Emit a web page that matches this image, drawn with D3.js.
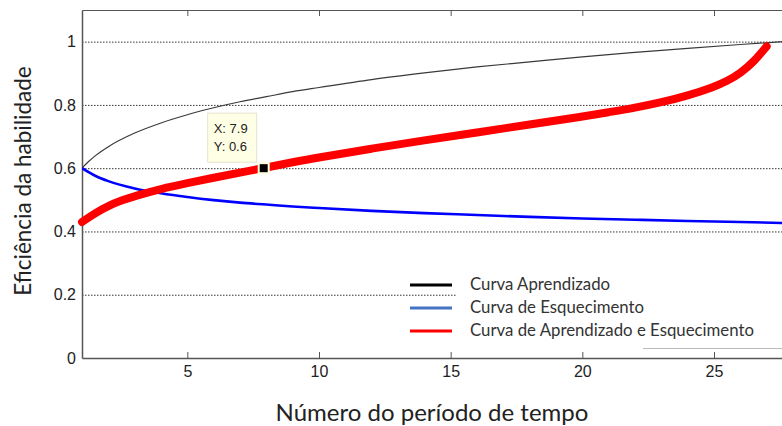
<!DOCTYPE html>
<html>
<head>
<meta charset="utf-8">
<script src="https://cdn.jsdelivr.net/npm/d3@7"></script>
<style>
  body { margin: 0; background: #fff; }
  svg { display: block; }
</style>
</head>
<body>
<div id="chart"></div>
<script>
// values
var periods_learn = [1, 1.25, 1.5, 2, 3, 4, 5, 6, 7, 8, 9, 10, 12, 14, 16, 18, 20, 22, 24, 26, 28];
var learn         = [0.600, 0.621, 0.639, 0.668, 0.711, 0.743, 0.769, 0.791, 0.810, 0.826, 0.842, 0.855, 0.880, 0.901, 0.920, 0.936, 0.952, 0.966, 0.979, 0.991, 1.002];

var periods_forget = [1, 1.5, 2, 3, 4, 5, 6, 7, 8, 9, 10, 12, 14, 16, 18, 20, 22, 24, 26, 28];
var forget         = [0.600, 0.576, 0.559, 0.536, 0.521, 0.509, 0.499, 0.491, 0.485, 0.479, 0.474, 0.465, 0.458, 0.452, 0.446, 0.441, 0.437, 0.433, 0.430, 0.426];

var periods_both = [1, 1.5, 2, 2.5, 3, 4, 5, 6, 7, 8, 9, 10, 12, 14, 16, 18, 20, 21, 22, 23, 24, 25, 25.5, 26, 26.5, 27];
var both         = [0.430, 0.458, 0.481, 0.498, 0.512, 0.535, 0.553, 0.570, 0.586, 0.602, 0.619, 0.634, 0.662, 0.688, 0.713, 0.738, 0.763, 0.777, 0.791, 0.808, 0.829, 0.857, 0.875, 0.900, 0.935, 0.985];

var x_ticks = [5, 10, 15, 20, 25];
var y_ticks = [0, 0.2, 0.4, 0.6, 0.8, 1];
var tip_point = [7.9, 0.6];

var legend_items = [
  {label: "Curva Aprendizado", color: "#000000"},
  {label: "Curva de Esquecimento", color: "#4472c4"},
  {label: "Curva de Aprendizado e Esquecimento", color: "#ff0000"}
];

var width = 782, height = 426,
    margin = {top: 10, left: 82},
    plot_w = 711, plot_h = 348;

var x = d3.scaleLinear().domain([1, 28]).range([margin.left, margin.left + plot_w]);
var y = d3.scaleLinear().domain([0, 1.1]).range([margin.top + plot_h, margin.top]);

var svg = d3.select("#chart").append("svg")
    .attr("width", width)
    .attr("height", height);

svg.append("clipPath").attr("id", "plot_clip")
  .append("rect")
    .attr("x", margin.left).attr("y", margin.top)
    .attr("width", plot_w).attr("height", plot_h);

// dotted grid lines
svg.append("g")
    .attr("class", "grid")
    .attr("transform", "translate(" + margin.left + ",0)")
    .call(d3.axisLeft(y).tickValues(y_ticks.slice(1)).tickSize(-plot_w).tickFormat(""))
  .call(function(g){
    g.select(".domain").remove();
    g.selectAll("line")
      .attr("stroke", "#333")
      .attr("stroke-width", 1)
      .attr("stroke-dasharray", "1.5,1.5");
  });

// white patch behind the legend (hides part of the grid)
svg.append("rect")
    .attr("x", 457).attr("y", 270)
    .attr("width", width - 457).attr("height", 78)
    .attr("fill", "#fff");
svg.append("line")
    .attr("x1", 643).attr("x2", width)
    .attr("y1", 348.5).attr("y2", 348.5)
    .attr("stroke", "#bbb");

// axes
var axis_color = "#555";
svg.append("g")
    .attr("transform", "translate(0," + (margin.top + plot_h) + ")")
    .call(d3.axisBottom(x).tickValues(x_ticks).tickSizeInner(-6).tickSizeOuter(0).tickPadding(8))
  .call(function(g){
    g.select(".domain").attr("stroke", axis_color).attr("stroke-width", 1.5);
    g.selectAll("line").attr("stroke", axis_color);
    g.selectAll("text").attr("font-family", "Liberation Sans, Arial, sans-serif")
      .attr("font-size", 16).attr("fill", "#222");
  });

svg.append("g")
    .attr("transform", "translate(0," + margin.top + ")")
    .call(d3.axisTop(x).tickValues(x_ticks).tickSizeInner(-6).tickSizeOuter(0).tickFormat(""))
  .call(function(g){
    g.select(".domain").attr("stroke", axis_color).attr("stroke-width", 1.2);
    g.selectAll("line").attr("stroke", axis_color);
  });

svg.append("g")
    .attr("transform", "translate(" + margin.left + ",0)")
    .call(d3.axisLeft(y).tickValues(y_ticks).tickSizeInner(0).tickSizeOuter(0).tickPadding(6)
      .tickFormat(function(d){ return d === 0 ? "0" : d3.format("")(+d.toFixed(1)); }))
  .call(function(g){
    g.select(".domain").attr("stroke", axis_color).attr("stroke-width", 1.5);
    g.selectAll("text").attr("font-family", "Liberation Sans, Arial, sans-serif")
      .attr("font-size", 16).attr("fill", "#222");
  });

// curves
var line = d3.line()
    .x(function(d){ return x(d[0]); })
    .y(function(d){ return y(d[1]); })
    .curve(d3.curveMonotoneX);

var lines = svg.append("g").attr("clip-path", "url(#plot_clip)");

lines.append("path")
    .datum(d3.zip(periods_learn, learn))
    .attr("d", line)
    .attr("fill", "none")
    .attr("stroke", "#3a3a3a")
    .attr("stroke-width", 1.2);

lines.append("path")
    .datum(d3.zip(periods_forget, forget))
    .attr("d", line)
    .attr("fill", "none")
    .attr("stroke", "#0000ff")
    .attr("stroke-width", 2.6);

svg.append("path")
    .datum(d3.zip(periods_both, both))
    .attr("d", line.curve(d3.curveBasis))
    .attr("fill", "none")
    .attr("stroke", "#ff0000")
    .attr("stroke-width", 8)
    .attr("stroke-linecap", "round")
    .attr("stroke-linejoin", "round");

// data tip
var tx = x(tip_point[0]), ty = y(tip_point[1]);
svg.append("rect")
    .attr("x", tx - 6).attr("y", ty - 6)
    .attr("width", 12).attr("height", 12)
    .attr("fill", "#ffffe0");
svg.append("rect")
    .attr("x", tx - 4).attr("y", ty - 4)
    .attr("width", 8).attr("height", 8)
    .attr("fill", "#000");

var tip = svg.append("g").attr("transform", "translate(" + (tx - 56) + "," + (ty - 55) + ")");
tip.append("rect")
    .attr("width", 49).attr("height", 49)
    .attr("fill", "#ffffe6")
    .attr("stroke", "#e4e4d0");
tip.selectAll("text")
    .data(["X: " + tip_point[0], "Y: " + tip_point[1]])
    .enter()
    .append("text")
      .attr("x", 6)
      .attr("y", function(d, i){ return 20 + i * 18; })
      .attr("font-family", "Liberation Sans, Arial, sans-serif")
      .attr("font-size", 13)
      .attr("fill", "#222")
      .text(function(d){ return d; });

// legend
var legend = svg.append("g").attr("class", "legend");
legend.selectAll("line")
    .data(legend_items)
    .enter()
    .append("line")
      .attr("x1", 410).attr("x2", 452)
      .attr("y1", function(d, i){ return 285 + i * 23; })
      .attr("y2", function(d, i){ return 285 + i * 23; })
      .attr("stroke", function(d){ return d.color; })
      .attr("stroke-width", 3);
legend.selectAll("text")
    .data(legend_items)
    .enter()
    .append("text")
      .attr("x", 470)
      .attr("y", function(d, i){ return 290 + i * 23; })
      .attr("font-family", "Lato, 'Open Sans', sans-serif")
      .attr("font-size", 16.8)
      .attr("fill", "#333")
      .text(function(d){ return d.label; });

// axis titles
svg.append("text")
    .attr("x", 432).attr("y", 421)
    .attr("text-anchor", "middle")
    .attr("font-family", "Lato, 'Open Sans', sans-serif")
    .attr("font-size", 24)
    .attr("fill", "#222")
    .text("Número do período de tempo");

svg.append("text")
    .attr("transform", "translate(31,181) rotate(-90)")
    .attr("text-anchor", "middle")
    .attr("font-family", "Lato, 'Open Sans', sans-serif")
    .attr("font-size", 22.5)
    .attr("fill", "#222")
    .text("Eficiência da habilidade");
</script>
</body>
</html>
